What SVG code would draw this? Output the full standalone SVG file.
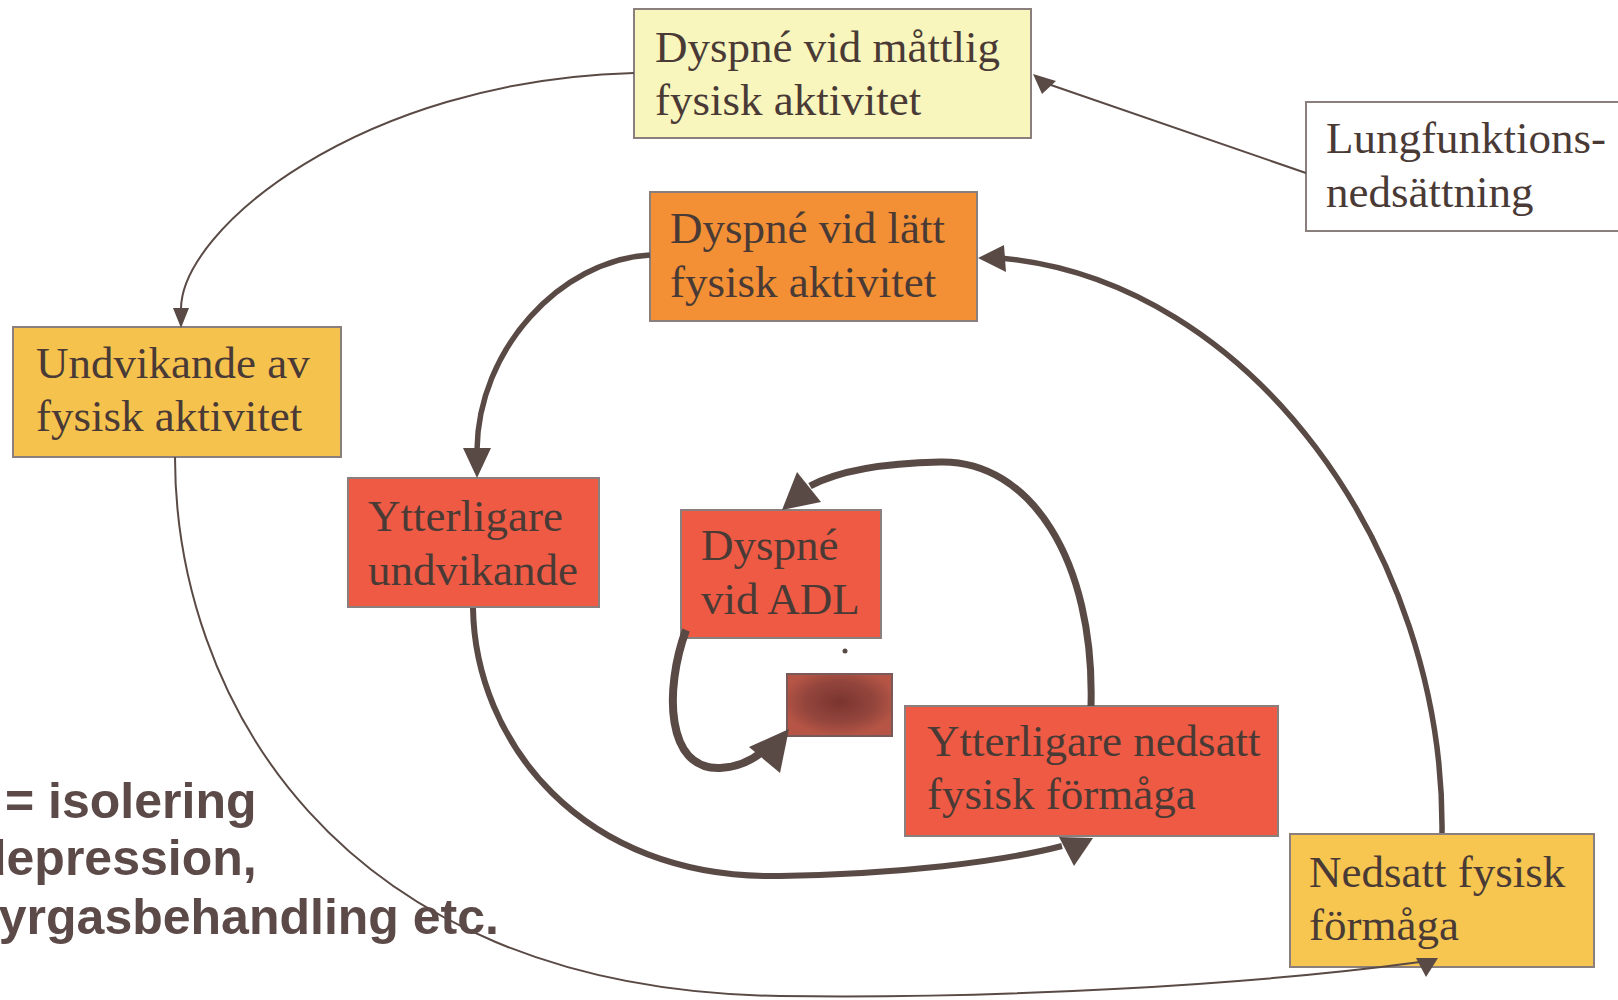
<svg xmlns="http://www.w3.org/2000/svg" width="1618" height="1000" viewBox="0 0 1618 1000">
<style>
.box{stroke:#8a7f7c;stroke-width:2}
.t{font-family:"Liberation Serif","Times New Roman",serif;font-size:45px;fill:#4a3a36}
.thin{fill:none;stroke:#5a4a45;stroke-width:2}
.thick{fill:none;stroke:#5a4a45;stroke-width:5.5}
.head{fill:#5a4a45}
.side{font-family:"Liberation Sans",Arial,sans-serif;font-weight:bold;font-size:50px;fill:#5b4a48}
</style>
<defs>
<radialGradient id="blot" cx="0.5" cy="0.45" r="0.55">
<stop offset="0" stop-color="#7a352f"/>
<stop offset="0.6" stop-color="#93453c"/>
<stop offset="1" stop-color="#b65546"/>
</radialGradient>
</defs>
<rect width="1618" height="1000" fill="#ffffff"/>

<g id="n-moderate">
<rect class="box" x="634" y="9" width="397" height="129" fill="#f8f6bc"/>
<text class="t" x="655" y="62">Dyspné vid måttlig</text>
<text class="t" x="655" y="115">fysisk aktivitet</text>
</g>
<g id="n-lung">
<rect class="box" x="1306" y="102" width="330" height="129" fill="#ffffff"/>
<text class="t" x="1326" y="153">Lungfunktions-</text>
<text class="t" x="1326" y="207">nedsättning</text>
</g>
<g id="n-light">
<rect class="box" x="650" y="192" width="327" height="129" fill="#f39035"/>
<text class="t" x="670" y="243">Dyspné vid lätt</text>
<text class="t" x="670" y="297">fysisk aktivitet</text>
</g>
<g id="n-avoid">
<rect class="box" x="13" y="327" width="328" height="130" fill="#f6c24e"/>
<text class="t" x="36" y="378">Undvikande av</text>
<text class="t" x="36" y="431">fysisk aktivitet</text>
</g>
<g id="n-more-avoid">
<rect class="box" x="348" y="478" width="251" height="129" fill="#ee5a44"/>
<text class="t" x="368" y="531">Ytterligare</text>
<text class="t" x="368" y="585">undvikande</text>
</g>
<g id="n-adl">
<rect class="box" x="681" y="510" width="200" height="128" fill="#ee5a44"/>
<text class="t" x="701" y="560">Dyspné</text>
<text class="t" x="701" y="614">vid ADL</text>
</g>
<g id="n-blot">
<rect x="787" y="674" width="105" height="62" fill="url(#blot)" stroke="#7a5a58" stroke-width="2"/>
</g>
<circle cx="845" cy="651" r="2.5" fill="#5a4a45"/>
<g id="n-more-reduced">
<rect class="box" x="905" y="706" width="373" height="130" fill="#ee5a44"/>
<text class="t" x="927" y="756">Ytterligare nedsatt</text>
<text class="t" x="927" y="809">fysisk förmåga</text>
</g>
<g id="n-reduced">
<rect class="box" x="1290" y="834" width="304" height="133" fill="#f6c650"/>
<text class="t" x="1309" y="887">Nedsatt fysisk</text>
<text class="t" x="1309" y="940">förmåga</text>
</g>

<g id="connectors">
<path class="thin" d="M634,73 C360,80 180,230 181,310"/>
<polygon class="head" points="173,308 189,308 181,328"/>
<path class="thin" d="M1306,173 L1048,84"/>
<polygon class="head" points="1033,74 1042,94 1056,81"/>
<path class="thick" d="M650,255 C560,260 478,350 477,450"/>
<polygon class="head" points="463,448 491,448 477,478"/>
<path class="thin" d="M175,457 C175,690 330,990 780,996 C1000,999 1250,985 1420,962"/>
<polygon class="head" points="1416,958 1438,958 1426,977"/>
<path class="thick" d="M1442,833 C1445,550 1250,280 1000,258"/>
<polygon class="head" points="978,258 1004,245 1006,272"/>
<path class="thick" style="stroke-width:6" d="M473,608 C475,740 580,880 780,876 C900,874 1000,862 1062,846"/>
<polygon class="head" points="1059,837 1093,838 1074,866"/>
<path class="thick" style="stroke-width:7" d="M1091,706 C1095,560 1030,460 940,462 C890,463 840,470 810,486"/>
<polygon class="head" points="797,472 782,510 821,502"/>
<path class="thick" style="stroke-width:8" d="M686,630 C664,690 666,770 720,768 C740,767 752,760 762,752"/>
<polygon class="head" points="789,729 749,747 780,773"/>
</g>

<g id="side-text">
<text class="side" x="5" y="818">= isolering</text>
<text class="side" x="-24" y="875">depression,</text>
<text class="side" x="-29" y="934">syrgasbehandling etc.</text>
</g>
</svg>
